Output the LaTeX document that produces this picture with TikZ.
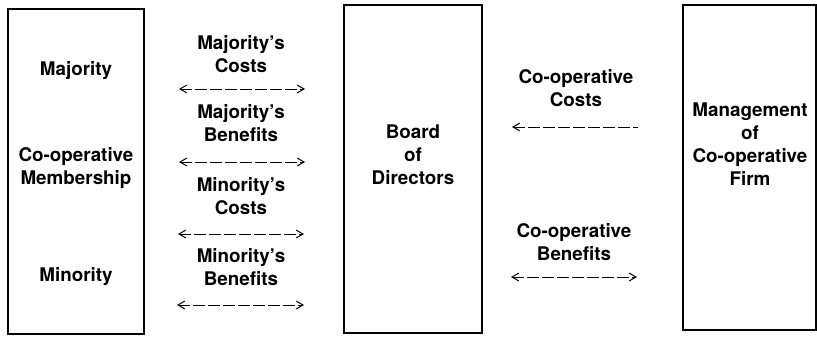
\documentclass[tikz,border=0pt]{standalone}
\usepackage{fontspec}
\setmainfont{TeX Gyre Heros}
\usepackage{tikz}
\usetikzlibrary{positioning, arrows}
\tikzset{
  >=angle 60, % thin open arrow heads
  party/.style={draw, thick, minimum width=#1, inner sep=0pt}, % the tall boxes
  flow/.style={line width=0.5pt, dash pattern=on 6pt off 1.5pt}, % dashed flow lines
  every node/.style={font=\fontsize{9.4}{11.5}\selectfont\bfseries, align=center},
}

\begin{document}
\begin{tikzpicture}[x=0.5pt, y=-0.5pt]
    \useasboundingbox (0,0) rectangle (817,337);
    % boxes
    \node[party=68pt, minimum height=162.5pt] (memb)  at (76,171.5)   {};
    \node[party=69pt, minimum height=164pt]   (board) at (413,169)    {};
    \node[party=66.5pt, minimum height=162.5pt] (mgmt) at (749.5,167.5) {};
    % texts in the boxes
    \node (maj)   at (76,71)   {Majority};
    \node (coop)  at (76,168)  {Co-operative\\Membership};
    \node (mino)  at (76,277)  {Minority};
    \node (bdtxt) at (413,155) {Board\\of\\Directors};
    \node (mgtxt) at (750,144) {Management\\of\\Co-operative\\Firm};
    % flow labels
    \node (majc) at (241,54)  {Majority's\\Costs};
    \node (majb) at (241,123) {Majority's\\Benefits};
    \node (minc) at (241,196) {Minority's\\Costs};
    \node (minb) at (241,267) {Minority's\\Benefits};
    \node (cc)   at (576,88)  {Co-operative\\Costs};
    \node (cb)   at (574,242) {Co-operative\\Benefits};
    % flow ends
    \coordinate (a1) at (179,89);  \coordinate (b1) at (305,89);
    \coordinate (a2) at (179,162); \coordinate (b2) at (305,162);
    \coordinate (a3) at (178,234); \coordinate (b3) at (304,234);
    \coordinate (a4) at (177,305); \coordinate (b4) at (304,305);
    \coordinate (a5) at (512,127); \coordinate (b5) at (638,127);
    \coordinate (a6) at (511,277); \coordinate (b6) at (637,277);
    \draw[flow, <->] (a1) -- (b1);
    \draw[flow, <->] (a2) -- (b2);
    \draw[flow, <->] (a3) -- (b3);
    \draw[flow, <->] (a4) -- (b4);
    \draw[flow, <-]  (a5) -- (b5);
    \draw[flow, <->] (a6) -- (b6);
\end{tikzpicture}
\end{document}
